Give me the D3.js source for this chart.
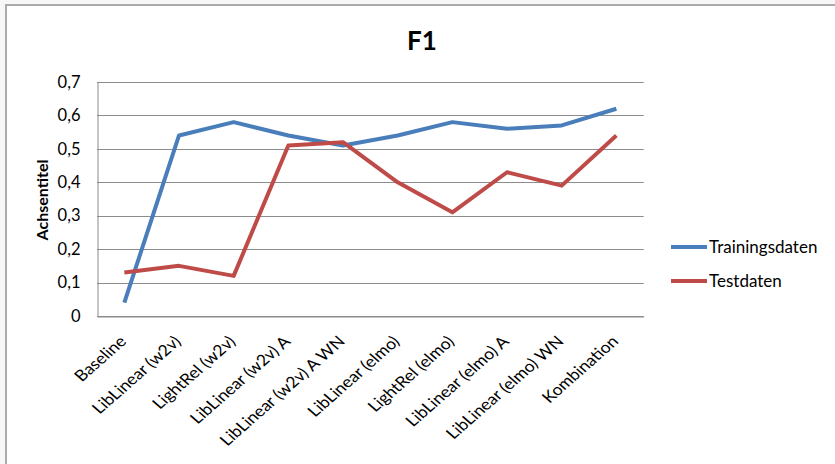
<!DOCTYPE html>
<html>
<head>
<meta charset="utf-8">
<script src="https://cdn.jsdelivr.net/npm/d3@7"></script>
<style>
  html, body { margin: 0; padding: 0; background: #f7f7f7; }
  svg { display: block; }
</style>
</head>
<body>
<svg id="chart" width="835" height="464"></svg>
<script>
// Kategorien der Modelle
const categories = [
  "Baseline", "LibLinear (w2v)", "LightRel (w2v)", "LibLinear (w2v) A",
  "LibLinear (w2v) A WN", "LibLinear (elmo)", "LightRel (elmo)",
  "LibLinear (elmo) A", "LibLinear (elmo) WN", "Kombination"
];
// F1-Werte je Datensatz
const trainingValues = [0.04, 0.54, 0.58, 0.54, 0.51, 0.54, 0.58, 0.56, 0.57, 0.62];
const testValues     = [0.13, 0.15, 0.12, 0.51, 0.52, 0.40, 0.31, 0.43, 0.39, 0.54];
const seriesNames = ["Trainingsdaten", "Testdaten"];
const seriesColors = ["#4a7ebb", "#be4b48"];
const yTicks = [0, 0.1, 0.2, 0.3, 0.4, 0.5, 0.6, 0.7];

const font = "Lato, 'Open Sans', sans-serif";
const svg = d3.select("#chart");

// Diagrammrahmen
svg.append("rect").attr("x", 6).attr("y", 5).attr("width", 840).attr("height", 470)
  .attr("fill", "#fff").attr("stroke", "#ababab").attr("stroke-width", 2);

const plot = { left: 97, right: 643.7, top: 82, bottom: 316 };

const x = d3.scaleBand().domain(categories).range([plot.left, plot.right]);
const y = d3.scaleLinear().domain([0, 0.7]).range([plot.bottom, plot.top]);

// Gitterlinien
svg.append("g").selectAll("line").data(yTicks).join("line")
  .attr("x1", plot.left).attr("x2", plot.right)
  .attr("y1", d => Math.round(y(d)) + 0.5).attr("y2", d => Math.round(y(d)) + 0.5)
  .attr("stroke", "#8c8c8c").attr("stroke-width", 1);

// y-Achse
const yAxis = d3.axisLeft(y).tickValues(yTicks).tickSize(0).tickPadding(17)
  .tickFormat(d => d === 0 ? "0" : d3.format(".1f")(d).replace(".", ","));
const gy = svg.append("g").attr("transform", `translate(${plot.left + 0.5},0)`).call(yAxis);
gy.select(".domain").attr("stroke", "#8c8c8c");
gy.selectAll("text").attr("font-family", font).attr("font-size", 16.5).attr("fill", "#000");

// x-Achse (schräge Beschriftung, leicht horizontal gestreckt)
const xAxis = d3.axisBottom(x).tickSize(0).tickPadding(0);
const gx = svg.append("g").attr("transform", `translate(0,${Math.round(plot.bottom) + 0.5})`).call(xAxis);
gx.select(".domain").attr("stroke", "#8c8c8c");
gx.selectAll("text")
  .attr("font-family", font).attr("font-size", 15.5).attr("fill", "#000")
  .attr("text-anchor", "end")
  .attr("dy", null).attr("y", 0)
  .attr("transform", "translate(3,26) scale(1.14,1) rotate(-45)");

// Achsentitel
svg.append("text")
  .attr("transform", "translate(48,200) rotate(-90)")
  .attr("text-anchor", "middle")
  .attr("font-family", font).attr("font-size", 16).attr("font-weight", "bold")
  .text("Achsentitel");

// Diagrammtitel
svg.append("text").attr("x", 422).attr("y", 50).attr("text-anchor", "middle")
  .attr("font-family", font).attr("font-size", 26).attr("font-weight", "bold")
  .text("F1");

// Linien
const line = d3.line().x((d, i) => x(categories[i]) + x.bandwidth() / 2).y(d => y(d));
[trainingValues, testValues].forEach((vals, k) => {
  svg.append("path").datum(vals).attr("d", line)
    .attr("fill", "none").attr("stroke", seriesColors[k])
    .attr("stroke-width", 4).attr("stroke-linejoin", "round");
});

// Legende
const legend = svg.append("g");
seriesNames.forEach((name, k) => {
  const ly = 247 + k * 34;
  legend.append("line").attr("x1", 671).attr("x2", 707).attr("y1", ly).attr("y2", ly)
    .attr("stroke", seriesColors[k]).attr("stroke-width", 4);
  legend.append("text").attr("x", 709).attr("y", ly + 6)
    .attr("font-family", font).attr("font-size", 17).text(name);
});
</script>
</body>
</html>
